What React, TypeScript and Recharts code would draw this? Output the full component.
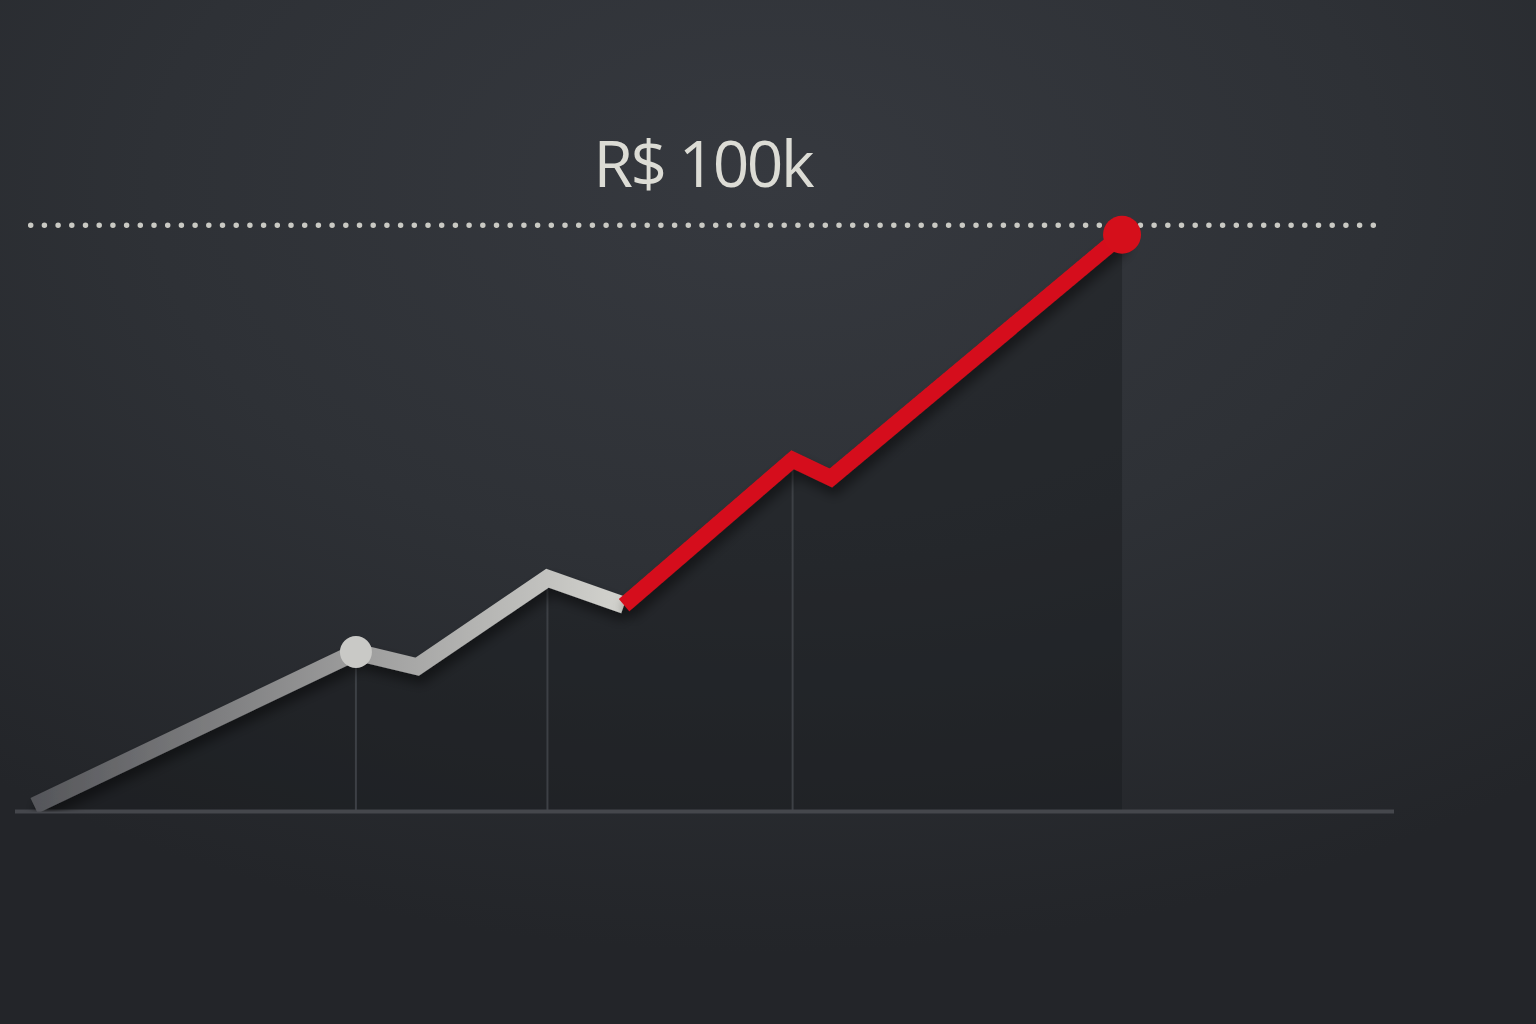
import React from 'react';
import { ComposedChart, Line, Area, XAxis, YAxis, ReferenceLine, ReferenceDot } from 'recharts';

// time (months) and revenue (R$ thousands)
const months = [0.5, 8.9, 10.5, 13.9, 15.9, 20.3, 21.3, 28.9];
const revenue = [1, 27.2, 24.7, 39.8, 35.2, 60.0, 56.9, 98.4];
const splitIndex = 4; // gray before, red from here
const dropLineIndices = [1, 3, 5];
const highlightIndex = 1;
const targetValue = 100;
const targetLabel = 'R$ 100k';
const targetRange = [0.41, 35.5];
const xDomain = [0, 36];
const yDomain = [0, 100];

const data = months.map((t, i) => ({
  t,
  all: revenue[i],
  past: i <= splitIndex ? revenue[i] : null,
  recent: i >= splitIndex ? revenue[i] : null,
}));

const last = months.length - 1;

export default function App() {
  return (
    <div
      style={{
        position: 'absolute',
        left: 0,
        top: 0,
        width: 1536,
        height: 1024,
        overflow: 'hidden',
        background:
          'radial-gradient(ellipse 80% 75% at 50% 18%, #36393f 0%, #2e3136 50%, #232529 100%)',
      }}
    >
      <style>{`.shadowed path{filter:url(#lineShadow);}`}</style>
      <ComposedChart
        width={1536}
        height={1024}
        data={data}
        margin={{ top: 225.3, right: 142, bottom: 212.5, left: 15 }}
        style={{ overflow: 'visible' }}
      >
        <defs>
          <linearGradient id="grayGrad" x1="0" y1="0" x2="1" y2="0">
            <stop offset="0%" stopColor="#55565a" />
            <stop offset="54%" stopColor="#9c9c9c" />
            <stop offset="87%" stopColor="#c2c2bf" />
            <stop offset="100%" stopColor="#d3d3ce" />
          </linearGradient>
          <filter id="lineShadow" x="-10%" y="-10%" width="130%" height="140%">
            <feDropShadow dx="3" dy="8" stdDeviation="6" floodColor="#000" floodOpacity="0.45" />
          </filter>
        </defs>
        <XAxis type="number" dataKey="t" domain={xDomain} hide allowDataOverflow />
        <YAxis type="number" domain={yDomain} hide allowDataOverflow />
        <Area
          dataKey="all"
          type="linear"
          stroke="none"
          fill="#17181b"
          fillOpacity={0.4}
          isAnimationActive={false}
          activeDot={false}
        />
        {dropLineIndices.map((i) => (
          <ReferenceLine
            key={i}
            segment={[
              { x: months[i], y: 0 },
              { x: months[i], y: revenue[i] },
            ]}
            stroke="#3d4045"
            strokeWidth={2}
            ifOverflow="visible"
          />
        ))}
        <ReferenceLine y={0} stroke="#45474c" strokeWidth={4} ifOverflow="visible" />
        <ReferenceLine
          segment={[
            { x: targetRange[0], y: targetValue },
            { x: targetRange[1], y: targetValue },
          ]}
          stroke="#c9c9c3"
          strokeWidth={5.5}
          strokeDasharray="0 13.7"
          strokeLinecap="round"
          ifOverflow="visible"
          label={{
            value: targetLabel,
            position: 'top',
            offset: 38,
            fill: '#dcdcd5',
            fontSize: 64,
            fontFamily: '"Open Sans", sans-serif',
            letterSpacing: -2.5,
          }}
        />
        <Line
          className="shadowed"
          dataKey="past"
          type="linear"
          stroke="url(#grayGrad)"
          strokeWidth={17}
          strokeLinejoin="miter"
          strokeLinecap="butt"
          dot={false}
          activeDot={false}
          isAnimationActive={false}
          connectNulls={false}
        />
        <Line
          className="shadowed"
          dataKey="recent"
          type="linear"
          stroke="#d50f1b"
          strokeWidth={16}
          strokeLinejoin="miter"
          strokeLinecap="butt"
          dot={false}
          activeDot={false}
          isAnimationActive={false}
          connectNulls={false}
        />
        <ReferenceDot
          x={months[highlightIndex]}
          y={revenue[highlightIndex]}
          r={16}
          fill="#c9c9c6"
          stroke="none"
          ifOverflow="visible"
        />
        <ReferenceDot
          x={months[last]}
          y={revenue[last]}
          r={19}
          fill="#d50f1b"
          stroke="none"
          ifOverflow="visible"
        />
      </ComposedChart>
    </div>
  );
}
